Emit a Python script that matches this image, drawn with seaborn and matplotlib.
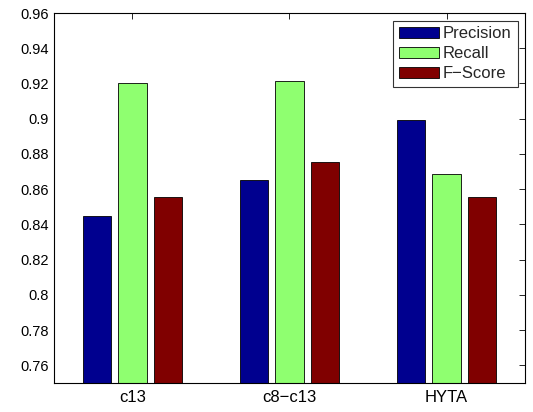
import matplotlib
matplotlib.use("Agg")
import matplotlib.pyplot as plt
import seaborn as sns
import pandas as pd

categories = ["c13", "c8−c13", "HYTA"]
metrics = ["Precision", "Recall", "F−Score"]
precision = [0.845, 0.8655, 0.8995]
recall = [0.9205, 0.9215, 0.8685]
fscore = [0.8555, 0.8755, 0.8555]
yticks = [0.76, 0.78, 0.80, 0.82, 0.84, 0.86, 0.88, 0.90, 0.92, 0.94, 0.96]
ytick_labels = ["0.76", "0.78", "0.8", "0.82", "0.84", "0.86", "0.88", "0.9", "0.92", "0.94", "0.96"]
colors = ["#00008f", "#8fff70", "#800000"]

rows = []
for series_name, vals in zip(metrics, [precision, recall, fscore]):
    for cat, v in zip(categories, vals):
        rows.append({"category": cat, "metric": series_name, "value": v})
df = pd.DataFrame(rows)

sns.set_style("white")
plt.rcParams["font.family"] = ["Liberation Sans", "DejaVu Sans"]
plt.rcParams["xtick.direction"] = "in"
plt.rcParams["ytick.direction"] = "in"

fig = plt.figure(figsize=(5.33, 4.12), dpi=100)
ax = fig.add_axes([0.1013, 0.0704, 0.8837, 0.898])

sns.barplot(data=df, x="category", y="value", hue="metric", order=categories,
            hue_order=metrics, palette=colors, width=0.67, gap=0.2,
            edgecolor="black", linewidth=0.6, ax=ax, saturation=1)

ax.set_xlim(-0.5, 2.5)
ax.set_ylim(0.75, 0.96)
ax.set_yticks(yticks)
ax.set_yticklabels(ytick_labels, fontsize=10.5)
ax.set_xticks(range(len(categories)))
ax.set_xticklabels(categories, fontsize=12)
ax.set_xlabel("")
ax.set_ylabel("")
ax.tick_params(axis="both", which="both", top=True, right=True, length=4, width=0.6,
               colors="black", labelcolor="black")
ax.tick_params(axis="x", bottom=False, top=True, pad=5)
for s in ax.spines.values():
    s.set_visible(True)
    s.set_color("black")
    s.set_linewidth(0.8)

leg = ax.legend(loc="upper right", fontsize=12, frameon=True, fancybox=False,
                handlelength=2.4, handleheight=0.6, handletextpad=0.25,
                borderpad=0.35, labelspacing=0.3, borderaxespad=0.45)
leg.get_frame().set_edgecolor("black")
leg.get_frame().set_linewidth(0.8)

fig.savefig("out.png", dpi=100)
